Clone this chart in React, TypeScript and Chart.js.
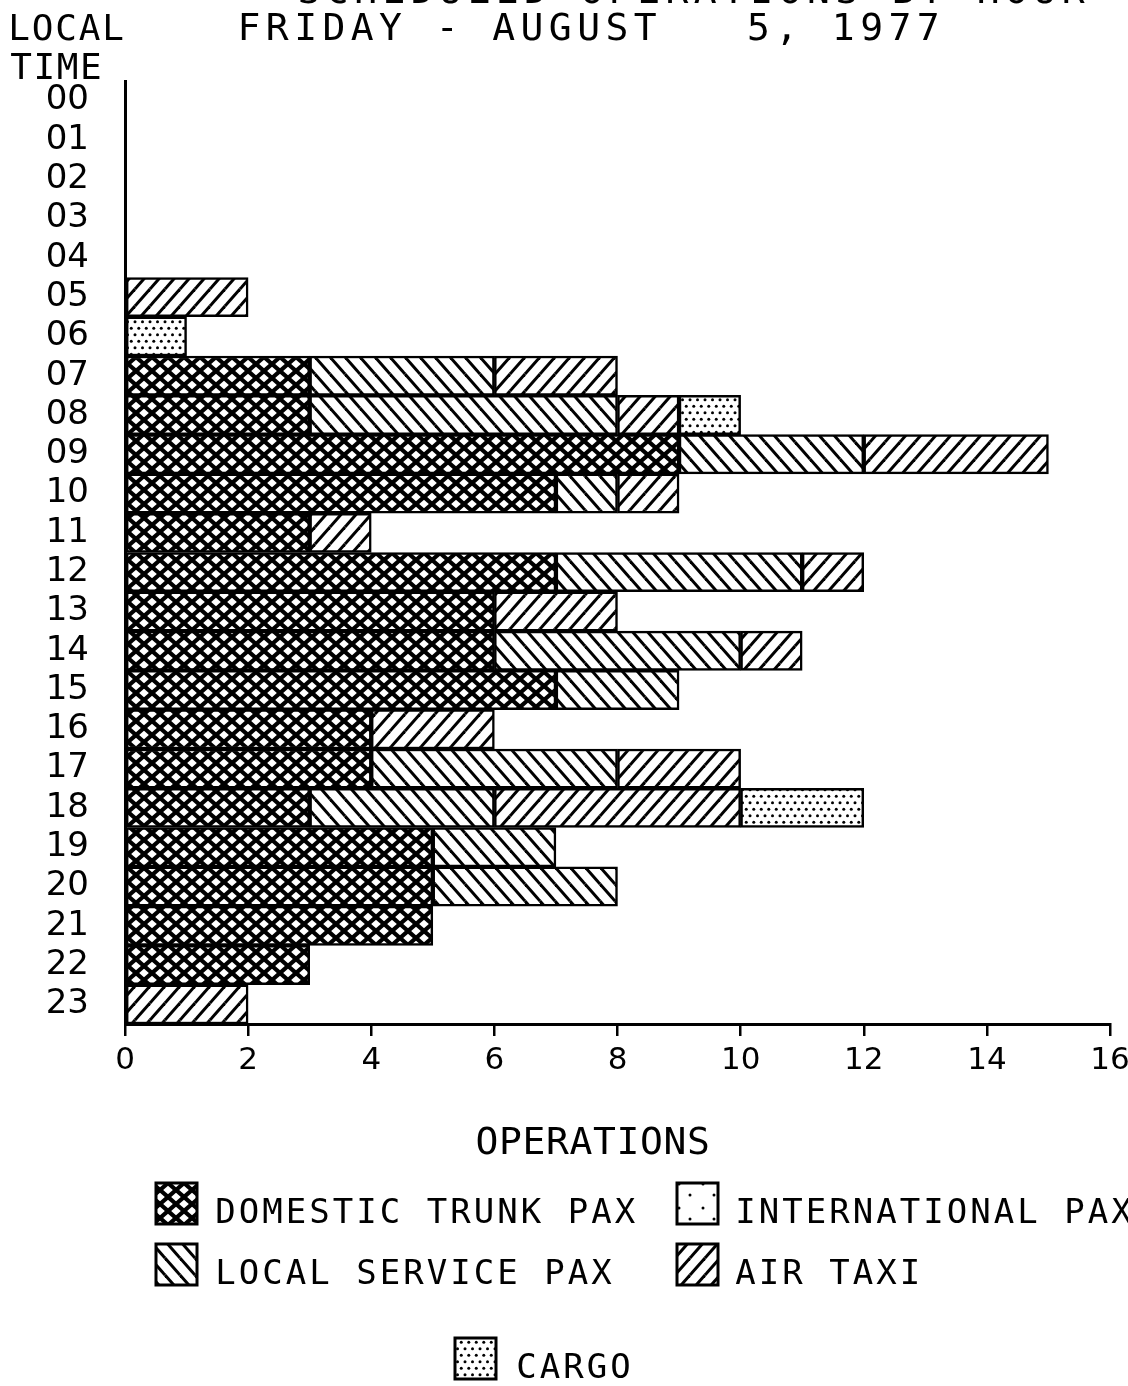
import React, { useEffect, useRef } from 'react';
import { Chart, registerables } from 'chart.js';

Chart.register(...registerables);

// ---------------- data ----------------
const HOURS = ['00', '01', '02', '03', '04', '05', '06', '07', '08', '09', '10', '11',
  '12', '13', '14', '15', '16', '17', '18', '19', '20', '21', '22', '23'];

const DOMESTIC_TRUNK_PAX = [0, 0, 0, 0, 0, 0, 0, 3, 3, 9, 7, 3, 7, 6, 6, 7, 4, 4, 3, 5, 5, 5, 3, 0];
const LOCAL_SERVICE_PAX = [0, 0, 0, 0, 0, 0, 0, 3, 5, 3, 1, 0, 4, 0, 4, 2, 0, 4, 3, 2, 3, 0, 0, 0];
const AIR_TAXI = [0, 0, 0, 0, 0, 2, 0, 2, 1, 3, 1, 1, 1, 2, 1, 0, 2, 2, 4, 0, 0, 0, 0, 2];
const INTERNATIONAL_PAX = [0, 0, 0, 0, 0, 0, 0, 0, 0, 0, 0, 0, 0, 0, 0, 0, 0, 0, 0, 0, 0, 0, 0, 0];
const CARGO = [0, 0, 0, 0, 0, 0, 1, 0, 1, 0, 0, 0, 0, 0, 0, 0, 0, 0, 2, 0, 0, 0, 0, 0];

const X_MIN = 0;
const X_MAX = 16;
const X_STEP = 2;

const TITLE_TOP = 'SCHEDULED OPERATIONS BY HOUR';
const TITLE = 'FRIDAY - AUGUST   5, 1977';
const Y_TITLE_1 = 'LOCAL';
const Y_TITLE_2 = 'TIME';
const X_TITLE = 'OPERATIONS';

const LBL_DOMESTIC = 'DOMESTIC TRUNK PAX';
const LBL_INTERNATIONAL = 'INTERNATIONAL PAX';
const LBL_LOCAL = 'LOCAL SERVICE PAX';
const LBL_AIR_TAXI = 'AIR TAXI';
const LBL_CARGO = 'CARGO';

// ---------------- styling helpers ----------------
const TICK_FONT = '"DejaVu Sans", sans-serif';
const TEXT_FONT = '"DejaVu Sans Mono", "Liberation Mono", monospace';

function makeTile(w: number, h: number, draw: (g: CanvasRenderingContext2D) => void): HTMLCanvasElement {
  const c = document.createElement('canvas');
  c.width = w;
  c.height = h;
  const g = c.getContext('2d') as CanvasRenderingContext2D;
  g.fillStyle = '#ffffff';
  g.fillRect(0, 0, w, h);
  g.strokeStyle = '#000000';
  g.fillStyle = '#000000';
  draw(g);
  return c;
}

function diagonals(g: CanvasRenderingContext2D, w: number, h: number, dir: number, lw: number) {
  g.lineWidth = lw;
  g.lineCap = 'butt';
  for (const ox of [-w, 0, w]) {
    for (const oy of [-h, 0, h]) {
      g.beginPath();
      if (dir > 0) {
        g.moveTo(ox, oy);
        g.lineTo(ox + w, oy + h);
      } else {
        g.moveTo(ox, oy + h);
        g.lineTo(ox + w, oy);
      }
      g.stroke();
    }
  }
}

function dots(g: CanvasRenderingContext2D, pts: number[][], r: number) {
  for (const [x, y] of pts) {
    g.beginPath();
    g.arc(x, y, r, 0, Math.PI * 2);
    g.fill();
  }
}

function makePatterns(ctx: CanvasRenderingContext2D) {
  const cross = makeTile(16, 14, (g) => {
    diagonals(g, 16, 14, 1, 4.2);
    diagonals(g, 16, 14, -1, 4.2);
  });
  const back = makeTile(15, 17, (g) => diagonals(g, 15, 17, 1, 3));
  const fwd = makeTile(15, 17, (g) => diagonals(g, 15, 17, -1, 3));
  const dense = makeTile(15, 13, (g) =>
    dots(g, [[3.75, 3.25], [11.25, 3.25], [0, 9.75], [7.5, 9.75], [15, 9.75]], 1.5));
  const sparse = makeTile(24, 24, (g) => dots(g, [[7, 8], [18, 19]], 1.5));
  return {
    domestic: ctx.createPattern(cross, 'repeat') as CanvasPattern,
    local: ctx.createPattern(back, 'repeat') as CanvasPattern,
    airTaxi: ctx.createPattern(fwd, 'repeat') as CanvasPattern,
    cargo: ctx.createPattern(dense, 'repeat') as CanvasPattern,
    international: ctx.createPattern(sparse, 'repeat') as CanvasPattern,
  };
}

// draw text with a fixed character pitch (plotter style)
function drawPitched(ctx: CanvasRenderingContext2D, text: string, left: number, baseline: number,
  size: number, pitch: number, glyphW: number) {
  ctx.save();
  ctx.font = `${size}px ${TEXT_FONT}`;
  ctx.fillStyle = '#000000';
  ctx.textAlign = 'center';
  ctx.textBaseline = 'alphabetic';
  for (let i = 0; i < text.length; i++) {
    const ch = text[i];
    if (ch !== ' ') ctx.fillText(ch, left + i * pitch + glyphW / 2, baseline);
  }
  ctx.restore();
}

function swatch(ctx: CanvasRenderingContext2D, fill: CanvasPattern, x: number, y: number, w: number, h: number) {
  ctx.save();
  ctx.fillStyle = fill;
  ctx.fillRect(x, y, w, h);
  ctx.strokeStyle = '#000000';
  ctx.lineWidth = 3;
  ctx.strokeRect(x, y, w, h);
  ctx.restore();
}

export default function App() {
  const canvasRef = useRef<HTMLCanvasElement | null>(null);

  useEffect(() => {
    const canvas = canvasRef.current;
    if (!canvas) return;
    const ctx = canvas.getContext('2d') as CanvasRenderingContext2D;
    const pats = makePatterns(ctx);

    const ds = (label: string, values: number[], fill: CanvasPattern) => ({
      label,
      data: values.map((v) => (v === 0 ? null : v)),
      backgroundColor: fill,
      borderColor: '#000000',
      borderWidth: 2.5,
      borderSkipped: false,
      barPercentage: 1,
      categoryPercentage: 1,
      stack: 'ops',
    });

    const textPlugin = {
      id: 'plotterText',
      beforeDraw(chart: any) {
        const c = chart.ctx as CanvasRenderingContext2D;
        c.save();
        c.fillStyle = '#ffffff';
        c.fillRect(0, 0, chart.width, chart.height);
        c.restore();
      },
      afterDraw(chart: any) {
        const c = chart.ctx as CanvasRenderingContext2D;
        // titles
        drawPitched(c, TITLE_TOP, 300, 3, 38, 28.3, 18);
        drawPitched(c, TITLE, 240, 40, 38, 28.3, 18);
        drawPitched(c, Y_TITLE_1, 10, 40, 36, 23.5, 18);
        drawPitched(c, Y_TITLE_2, 12, 79, 36, 23.3, 18);
        drawPitched(c, X_TITLE, 478, 1154, 38, 23.5, 18);
        // legend
        const items: [CanvasPattern, string, number, number, number][] = [
          [pats.domestic, LBL_DOMESTIC, 156, 217, 1223],
          [pats.international, LBL_INTERNATIONAL, 677, 737, 1223],
          [pats.local, LBL_LOCAL, 156, 217, 1284],
          [pats.airTaxi, LBL_AIR_TAXI, 677, 737, 1284],
          [pats.cargo, LBL_CARGO, 455, 518, 1378],
        ];
        for (const [fill, label, sx, tx, base] of items) {
          swatch(c, fill, sx, base - 40, 41, 41);
          drawPitched(c, label, tx, base, 34, 23.5, 17);
        }
      },
    };

    const chart = new Chart(ctx, {
      type: 'bar',
      data: {
        labels: HOURS,
        datasets: [
          ds(LBL_DOMESTIC, DOMESTIC_TRUNK_PAX, pats.domestic),
          ds(LBL_LOCAL, LOCAL_SERVICE_PAX, pats.local),
          ds(LBL_AIR_TAXI, AIR_TAXI, pats.airTaxi),
          ds(LBL_INTERNATIONAL, INTERNATIONAL_PAX, pats.international),
          ds(LBL_CARGO, CARGO, pats.cargo),
        ] as any,
      },
      options: {
        indexAxis: 'y',
        responsive: false,
        animation: false,
        devicePixelRatio: 1,
        layout: { padding: { top: 81, right: 18, bottom: 302, left: 0 } },
        plugins: {
          legend: { display: false },
          title: { display: false },
          tooltip: { enabled: false },
        },
        scales: {
          x: {
            type: 'linear',
            stacked: true,
            position: 'bottom',
            min: X_MIN,
            max: X_MAX,
            ticks: {
              stepSize: X_STEP,
              color: '#000000',
              font: { family: TICK_FONT, size: 31 },
              padding: 6,
              maxRotation: 0,
              autoSkip: false,
            },
            grid: {
              display: true,
              drawOnChartArea: false,
              drawTicks: true,
              tickLength: 12,
              color: '#000000',
              lineWidth: 2.5,
            },
            border: { display: true, color: '#000000', width: 3 },
            afterFit: (s: any) => {
              s.height = 60;
              s.paddingLeft = 0;
              s.paddingRight = 0;
            },
          },
          y: {
            type: 'category',
            stacked: true,
            ticks: {
              color: '#000000',
              font: { family: TICK_FONT, size: 34 },
              padding: 36,
              autoSkip: false,
            },
            grid: { display: true, drawOnChartArea: false, drawTicks: false },
            border: { display: true, color: '#000000', width: 3 },
            afterFit: (s: any) => {
              s.width = 125;
            },
          },
        },
      } as any,
      plugins: [textPlugin],
    });

    return () => chart.destroy();
  }, []);

  return (
    <div style={{ position: 'absolute', left: 0, top: 0, width: 1128, height: 1386, background: '#ffffff' }}>
      <canvas ref={canvasRef} width={1128} height={1386} style={{ display: 'block', width: 1128, height: 1386 }} />
    </div>
  );
}
